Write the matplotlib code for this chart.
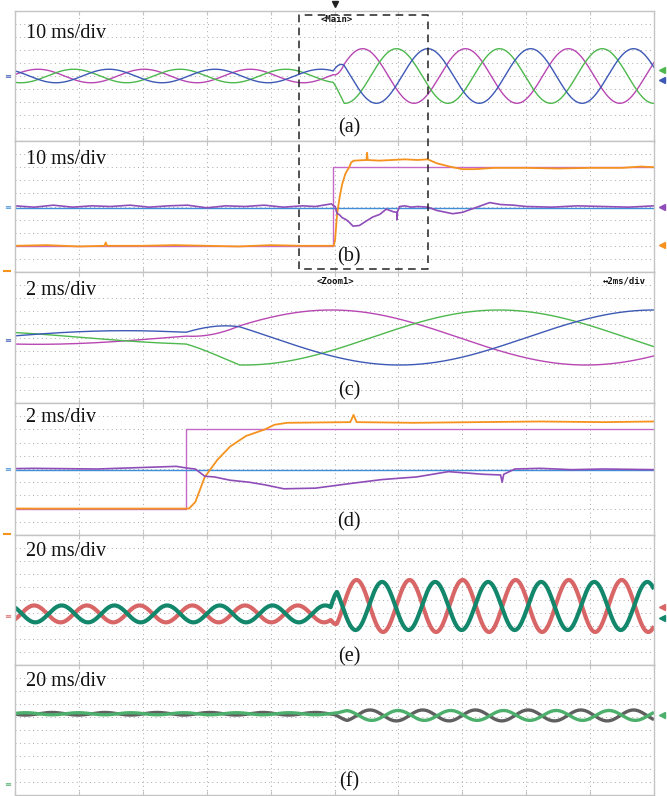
import numpy as np
import matplotlib.pyplot as plt
from matplotlib.lines import Line2D

W, H = 667, 796

# time windows of the six panels (ms)
main_span = [0.0, 100.0]    # (a), (b)  10 ms/div
zoom_span = [44.4, 64.6]    # (c), (d)   2 ms/div, zoom of the dashed box
wide_span = [0.0, 200.0]    # (e), (f)  20 ms/div

# (a)/(c) three phase voltages, values in divisions
v_colors = ['#B847B3', '#4DB84D', '#3D59B5']
v_pre_amp = 0.52
v_post_amp = 2.1
v_pre_period = 16.6
v_post_period = 16.1
v_pre_peak = [3.6, 9.2, 14.7]
v_post_peak = [54.4, 59.7, 64.6]
v_step = [49.8, 51.5]

# (b)/(d) reference step, blue level, orange response, violet trace
ref_t = [0.0, 49.8, 49.8, 100.0]
ref_v = [-3.0, -3.0, 3.05, 3.05]
blue_level = -0.1
orange_t = [0, 5, 10, 14, 14.2, 14.4, 20, 25, 30, 35, 40, 45, 49.9,
            50.1, 50.4, 50.8, 51.2, 51.7, 52.3, 52.6, 53.0,
            55.0, 55.1, 55.2, 57.0, 59.0, 61.0, 63.0, 64.6,
            66.0, 68.0, 70.0, 72.0, 75.0, 80.0, 85.0, 90.0, 95.0, 98.0, 100.0]
orange_v = [-3.0, -2.95, -3.05, -3.0, -2.75, -3.0, -3.0, -2.95, -3.0, -3.05, -2.95, -3.0, -3.0,
            -2.5, -0.6, 0.7, 1.7, 2.5, 3.0, 3.35, 3.5,
            3.55, 4.1, 3.55, 3.5, 3.55, 3.6, 3.55, 3.6,
            3.3, 3.05, 2.85, 2.85, 2.95, 2.95, 2.9, 2.95, 2.95, 3.05, 3.0]
violet_t = [0, 3, 6, 9, 12, 15, 18, 21, 24, 27, 30, 33, 36, 39, 42, 45,
            47, 49.5, 49.9, 50.1, 50.4, 50.7, 51.2, 51.8, 52.3, 52.9, 53.9,
            55.0, 56.0, 57.1, 58.1, 59.2, 59.75, 59.8, 59.85, 60.2,
            61.0, 62.0, 63.0, 64.6, 66.0, 68.5, 70.0, 72.0, 74.3,
            76.0, 78.0, 80.0, 84.0, 88.0, 92.0, 96.0, 100.0]
violet_v = [0.05, -0.05, 0.1, -0.05, 0.05, 0.0, 0.1, -0.05, 0.05, 0.1, -0.1, 0.05, 0.0, 0.1, -0.05, 0.05,
            0.0, 0.2, 0.05, 0.0, -0.55, -0.6, -0.85, -1.0, -1.2, -1.5, -1.45,
            -1.1, -0.8, -0.6, -0.2, -0.4, -0.45, -1.0, -0.4, 0.0,
            0.05, -0.05, 0.0, -0.05, -0.3, -0.55, -0.45, -0.1, 0.3,
            0.15, 0.1, 0.0, -0.05, 0.05, 0.0, -0.05, 0.05]

# (e) two phase currents (red, teal)
i_colors = ['#D96666', '#13876B']
i_pre_amp = [0.65, 0.65]
i_post_amp = [2.0, 1.85]
i_pre_center = -1.07
i_post_center = -0.46
i_pre_period = 16.5
i_post_period = 16.6
i_pre_peak = [6.0, 14.6]
i_post_peak = [106.9, 114.9]
i_step = [98.8, 100.8]

# (f) two currents (grey, green)
f_colors = ['#5F5F5F', '#4DAF6C']
f_pre_amp = [0.1, 0.08]
f_post_amp = [0.42, 0.38]
f_pre_center = 1.25
f_post_center = 1.12
f_period = 16.5
f_pre_peak = [11.5, 19.8]
f_post_peak = [111.1, 119.9]
f_step = [100.0, 104.0]

div_labels = ['10 ms/div', '10 ms/div', '2 ms/div', '2 ms/div', '20 ms/div', '20 ms/div']
panel_tags = ['(a)', '(b)', '(c)', '(d)', '(e)', '(f)']


def wave(t, amp, period, peak, offset=0.0):
    return offset + amp * np.cos(2 * np.pi * (t - peak) / period)


def blend(t, pre, post, step):
    w = np.clip((t - step[0]) / (step[1] - step[0]), 0, 1)
    return (1 - w) * pre + w * post


fig = plt.figure(figsize=(W / 100, H / 100), dpi=100)
fig.patch.set_facecolor('white')

panel_px = [11, 141, 272, 403, 535, 665, 795]
spans = [main_span, main_span, zoom_span, zoom_span, wide_span, wide_span]
axes = []
for k in range(6):
    top, bot = panel_px[k], panel_px[k + 1]
    ax = fig.add_axes([15 / W, 1 - bot / H, 639 / W, (bot - top) / H])
    x0, x1 = spans[k]
    ax.set_xlim(x0, x1)
    ax.set_ylim(-5, 5)
    ax.set_xticks(np.linspace(x0, x1, 11))
    ax.set_yticks(np.arange(-5, 6))
    ax.grid(True, color='#A8A8A8', linestyle=(0, (1, 3.5)), linewidth=0.7)
    ax.set_axisbelow(True)
    ax.tick_params(direction='in', length=3, color='#C4C4C4', top=True, bottom=True,
                   left=False, right=False, labelbottom=False, labelleft=False)
    for s in ax.spines.values():
        s.set_color('#C4C4C4')
        s.set_linewidth(1.0)
    axes.append(ax)

# three phase voltages, drawn in (a) and zoomed in (c)
t_main = np.linspace(0, 100, 6001)
for ax in (axes[0], axes[2]):
    for p in range(3):
        pre = wave(t_main, v_pre_amp, v_pre_period, v_pre_peak[p])
        post = wave(t_main, v_post_amp, v_post_period, v_post_peak[p])
        ax.plot(t_main, blend(t_main, pre, post, v_step), color=v_colors[p], lw=1.0)

# step response, drawn in (b) and zoomed in (d)
for ax in (axes[1], axes[3]):
    ax.plot(ref_t, ref_v, color='#C569C8', lw=1.0)
    ax.axhline(blue_level, color='#3E8ED8', lw=1.0)
    ax.plot(orange_t, orange_v, color='#F6921E', lw=1.3)
    ax.plot(violet_t, violet_v, color='#8F4DB8', lw=1.2)

# currents (e)
t_wide = np.linspace(0, 200, 8001)
for p in range(2):
    pre = wave(t_wide, i_pre_amp[p], i_pre_period, i_pre_peak[p], i_pre_center)
    post = wave(t_wide, i_post_amp[p], i_post_period, i_post_peak[p], i_post_center)
    axes[4].plot(t_wide, blend(t_wide, pre, post, i_step), color=i_colors[p], lw=3.0,
                 solid_capstyle='butt')

# currents (f)
for p in range(2):
    pre = wave(t_wide, f_pre_amp[p], f_period, f_pre_peak[p], f_pre_center)
    post = wave(t_wide, f_post_amp[p], f_period, f_post_peak[p], f_post_center)
    axes[5].plot(t_wide, blend(t_wide, pre, post, f_step), color=f_colors[p], lw=2.4,
                 solid_capstyle='butt')

# channel markers at the right edge
right_marks = [(0, 0.45, '#4DB84D'), (0, -0.3, '#3D59B5'),
               (1, 0.0, '#8F4DB8'), (1, -2.95, '#F6921E'),
               (4, -0.54, '#D96666'), (4, -1.38, '#13876B'),
               (5, 1.15, '#4DAF6C')]
for k, y, c in right_marks:
    axes[k].plot([1.012], [y], marker='<', ms=5, color=c, transform=axes[k].get_yaxis_transform(),
                 clip_on=False)

# ground symbols at the left edge
left_marks = [(0, 0.0, '#3D59B5'), (1, -0.1, '#3E8ED8'), (2, -0.2, '#3D59B5'),
              (3, 0.0, '#3E8ED8'), (4, -1.3, '#D96666'), (5, -4.2, '#4DAF6C')]
for k, y, c in left_marks:
    axes[k].text(-0.006, y, '≡', color=c, fontsize=6, ha='right', va='center',
                 transform=axes[k].get_yaxis_transform())
for k in (1, 3):
    axes[k].plot([-0.012], [-4.95], marker='_', ms=6, mew=1.5, color='#F6921E',
                 transform=axes[k].get_yaxis_transform(), clip_on=False)

# dashed zoom box over (a) and (b)
pa = axes[0].get_position()
bx0 = pa.x0 + (zoom_span[0] - main_span[0]) / (main_span[1] - main_span[0]) * pa.width
bx1 = pa.x0 + (zoom_span[1] - main_span[0]) / (main_span[1] - main_span[0]) * pa.width
by0, by1 = 1 - 269 / H, 1 - 15 / H
fig.add_artist(Line2D([bx0, bx0, bx1, bx1, bx0], [by0, by1, by1, by0, by0],
                      color='#222222', lw=1.1, linestyle=(0, (5, 3.5))))
trig_x = pa.x0 + 50 / 100 * pa.width
fig.add_artist(Line2D([trig_x], [1 - 4 / H], marker='v', ms=4, color='#222222'))

mono = dict(family='DejaVu Sans Mono', fontsize=6.5, color='#111111', weight='bold')
fig.text(bx0 + 22 / W, 1 - 19 / H, '<Main>', ha='left', va='center', **mono)
fig.text(317 / W, 1 - 281 / H, '<Zoom1>', ha='left', va='center', **mono)
fig.text(646 / W, 1 - 281 / H, '↔2ms/div', ha='right', va='center', **mono)

# panel texts
label_dy = [22, 18, 19, 15, 16, 16]
tag_dy = [13, 15, 12, 13, 8, 13]
for k in range(6):
    top, bot = panel_px[k], panel_px[k + 1]
    fig.text(26 / W, 1 - (top + label_dy[k]) / H, div_labels[k], family='Liberation Serif',
             fontsize=14.5, ha='left', va='center', color='#111111')
    fig.text(349 / W, 1 - (bot - tag_dy[k]) / H, panel_tags[k], family='Liberation Serif',
             fontsize=14.5, ha='center', va='center', color='#111111')

fig.savefig('out.png', dpi=100, facecolor='white')
